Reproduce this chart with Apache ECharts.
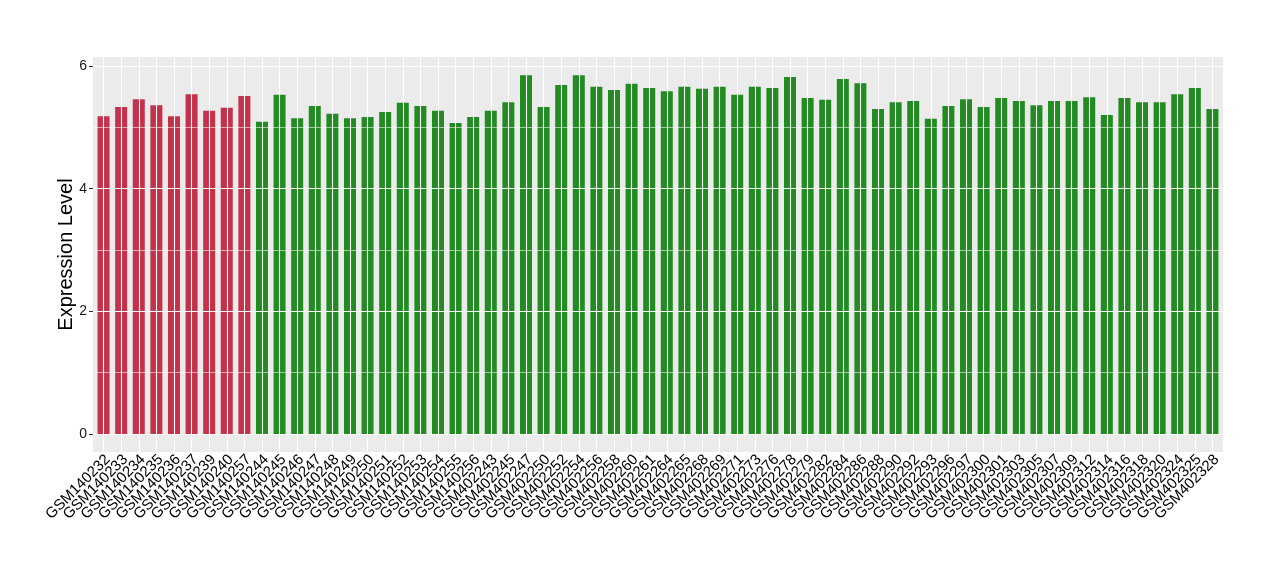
<!DOCTYPE html>
<html>
<head>
<meta charset="utf-8">
<script src="https://cdn.jsdelivr.net/npm/echarts@6/dist/echarts.min.js"></script>
<style>html,body{margin:0;padding:0;background:#fff}#chart{width:1280px;height:580px}</style>
</head>
<body>
<div id="chart"></div>
<script>
const samples = ["GSM140232","GSM140233","GSM140234","GSM140235","GSM140236","GSM140237","GSM140239","GSM140240","GSM140257",
"GSM140244","GSM140245","GSM140246","GSM140247","GSM140248","GSM140249","GSM140250","GSM140251","GSM140252","GSM140253","GSM140254","GSM140255","GSM140256",
"GSM402243","GSM402245","GSM402247","GSM402250","GSM402252","GSM402254","GSM402256","GSM402258","GSM402260","GSM402261",
"GSM402264","GSM402265","GSM402268","GSM402269","GSM402271","GSM402273","GSM402276","GSM402278","GSM402279","GSM402282",
"GSM402284","GSM402286","GSM402288","GSM402290","GSM402292","GSM402293","GSM402296","GSM402297","GSM402300","GSM402301",
"GSM402303","GSM402305","GSM402307","GSM402309","GSM402312","GSM402314","GSM402316","GSM402318","GSM402320","GSM402324",
"GSM402325","GSM402328"];
const groups = [1,1,1,1,1,1,1,1,1,
0,0,0,0,0,0,0,0,0,0,0,0,0,
0,0,0,0,0,0,0,0,0,0,0,0,0,0,0,0,0,0,0,0,0,0,0,0,0,0,0,0,0,0,0,0,0,0,0,0,0,0,0,0,0,0];
const values = [5.18,5.33,5.46,5.36,5.18,5.54,5.27,5.32,5.51,
5.09,5.53,5.15,5.35,5.22,5.15,5.17,5.25,5.40,5.35,5.27,5.07,5.17,
5.27,5.41,5.85,5.33,5.69,5.85,5.66,5.61,5.71,5.64,
5.59,5.66,5.63,5.66,5.53,5.66,5.64,5.82,5.48,5.45,
5.79,5.72,5.30,5.41,5.43,5.14,5.35,5.46,5.33,5.48,
5.43,5.36,5.43,5.43,5.49,5.20,5.48,5.41,5.41,5.54,
5.64,5.30];
const yTicks = [0, 2, 4, 6];
const yMinor = [1, 3, 5];
const groupColors = ["#228B22", "#C3324A"];

const xMin = 0.4, xMax = samples.length + 0.6;
const positions = samples.map((s, i) => i + 1);
const labelValues = [xMin, ...positions, xMax];
const barData = values.map((v, i) => ({ value: [i + 1, v], itemStyle: { color: groupColors[groups[i]] } }));

const chart = echarts.init(document.getElementById('chart'), null, { renderer: 'canvas' });
chart.setOption({
  animation: false,
  backgroundColor: '#ffffff',
  grid: { left: 93, right: 57, top: 57, bottom: 128, show: true, backgroundColor: '#EBEBEB', borderWidth: 0 },
  xAxis: {
    type: 'value', min: xMin, max: xMax,
    axisLine: { show: false },
    splitLine: { show: false },
    axisTick: { show: true, customValues: positions, length: 3, lineStyle: { color: '#333333', width: 1 } },
    axisLabel: {
      customValues: labelValues, rotate: 45, margin: 1, lineHeight: 12,
      fontSize: 15, color: '#000000', hideOverlap: false,
      fontFamily: 'Liberation Sans, Arial, sans-serif',
      formatter: v => (Math.abs(v - Math.round(v)) < 1e-6 && samples[Math.round(v) - 1] ? '\n' + samples[Math.round(v) - 1] : '')
    }
  },
  yAxis: {
    type: 'value', min: -0.293, max: 6.147,
    name: 'Expression Level', nameLocation: 'middle', nameGap: 17, nameMoveOverlap: false,
    nameTextStyle: { fontSize: 20, color: '#000000', fontFamily: 'Liberation Sans, Arial, sans-serif' },
    axisLine: { show: false },
    splitLine: { show: false },
    axisTick: { show: true, customValues: yTicks, length: 4, lineStyle: { color: '#333333', width: 1 } },
    axisLabel: { customValues: yTicks, margin: 6, fontSize: 14, color: '#1a1a1a',
      showMinLabel: true, showMaxLabel: true,
      fontFamily: 'Liberation Sans, Arial, sans-serif' }
  },
  series: [
    {
      type: 'line', z: 1, data: barData.map(d => d.value), showSymbol: false, silent: true,
      lineStyle: { opacity: 0 },
      markLine: {
        silent: true, symbol: 'none', label: { show: false }, animation: false,
        data: [
          ...positions.map(p => ({ xAxis: p, lineStyle: { color: '#ffffff', width: 1.1, type: 'solid' } })),
          ...yTicks.map(t => ({ yAxis: t, lineStyle: { color: '#ffffff', width: 1.1, type: 'solid' } })),
          ...yMinor.map(t => ({ yAxis: t, lineStyle: { color: '#ffffff', width: 0.55, type: 'solid' } }))
        ]
      }
    },
    {
      type: 'bar', z: 2, data: barData, barWidth: 12
    }
  ]
});
</script>
</body>
</html>
